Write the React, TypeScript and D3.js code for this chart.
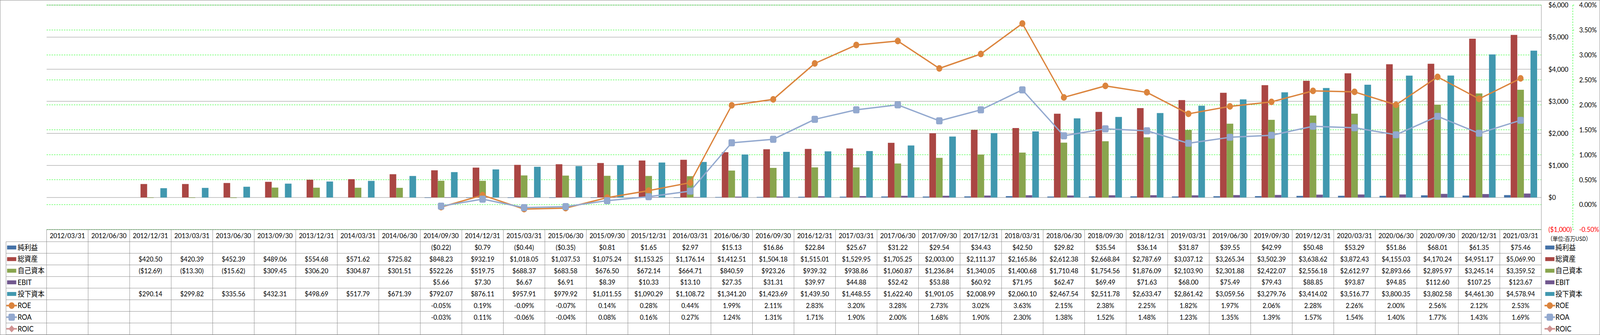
import React, { useEffect } from 'react';
import * as d3 from 'd3';

// quarter ends shown in the data table (2012/09/30 is absent in the source)
const categories = [
  '2012/03/31', '2012/06/30', '2012/12/31', '2013/03/31', '2013/06/30', '2013/09/30',
  '2013/12/31', '2014/03/31', '2014/06/30', '2014/09/30', '2014/12/31', '2015/03/31',
  '2015/06/30', '2015/09/30', '2015/12/31', '2016/03/31', '2016/06/30', '2016/09/30',
  '2016/12/31', '2017/03/31', '2017/06/30', '2017/09/30', '2017/12/31', '2018/03/31',
  '2018/06/30', '2018/09/30', '2018/12/31', '2019/03/31', '2019/06/30', '2019/09/30',
  '2019/12/31', '2020/03/31', '2020/06/30', '2020/09/30', '2020/12/31', '2021/03/31',
];

// 百万USD
const netIncome: (number | null)[] = [
  null, null, null, null, null, null, null, null, null,
  -0.22, 0.79, -0.44, -0.35, 0.81, 1.65, 2.97, 15.13, 16.86, 22.84, 25.67, 31.22, 29.54,
  34.43, 42.5, 29.82, 35.54, 36.14, 31.87, 39.55, 42.99, 50.48, 53.29, 51.86, 68.01, 61.35, 75.46,
];
const totalAssets: (number | null)[] = [
  null, null, 420.5, 420.39, 452.39, 489.06, 554.68, 571.62, 725.82, 848.23, 932.19, 1018.05,
  1037.53, 1075.24, 1153.25, 1176.14, 1412.51, 1504.18, 1515.01, 1529.95, 1705.25, 2003.0,
  2111.37, 2165.86, 2612.38, 2668.84, 2787.69, 3037.12, 3265.34, 3502.39, 3638.62, 3872.43,
  4155.03, 4170.24, 4951.17, 5069.9,
];
const equity: (number | null)[] = [
  null, null, -12.69, -13.3, -15.62, 309.45, 306.2, 304.87, 301.51, 522.26, 519.75, 688.37,
  683.58, 676.5, 672.14, 664.71, 840.59, 923.26, 939.32, 938.86, 1060.87, 1236.84, 1340.05,
  1400.68, 1710.48, 1754.56, 1876.09, 2103.9, 2301.88, 2422.07, 2556.18, 2612.97, 2893.66,
  2895.97, 3245.14, 3359.52,
];
const ebit: (number | null)[] = [
  null, null, null, null, null, null, null, null, null,
  5.66, 7.3, 6.67, 6.91, 8.39, 10.33, 13.1, 27.35, 31.31, 39.97, 44.88, 52.42, 53.88, 60.92,
  71.95, 62.47, 69.49, 71.63, 68.0, 75.49, 79.43, 88.85, 93.87, 94.85, 112.6, 107.25, 123.67,
];
const investedCapital: (number | null)[] = [
  null, null, 290.14, 299.82, 335.56, 432.31, 498.69, 517.79, 671.39, 792.07, 876.11, 957.91,
  979.92, 1011.55, 1090.29, 1108.72, 1341.2, 1423.69, 1439.5, 1448.55, 1622.4, 1901.05,
  2008.99, 2060.1, 2467.54, 2511.78, 2633.47, 2861.42, 3059.56, 3279.76, 3414.02, 3516.77,
  3800.35, 3802.58, 4461.3, 4578.94,
];
// percent
const roe: (number | null)[] = [
  null, null, null, null, null, null, null, null, null,
  -0.05, 0.19, -0.09, -0.07, 0.14, 0.28, 0.44, 1.99, 2.11, 2.83, 3.2, 3.28, 2.73, 3.02, 3.63,
  2.15, 2.38, 2.25, 1.82, 1.97, 2.06, 2.28, 2.26, 2.0, 2.56, 2.12, 2.53,
];
const roa: (number | null)[] = [
  null, null, null, null, null, null, null, null, null,
  -0.03, 0.11, -0.06, -0.04, 0.08, 0.16, 0.27, 1.24, 1.31, 1.71, 1.9, 2.0, 1.68, 1.9, 2.3,
  1.38, 1.52, 1.48, 1.23, 1.35, 1.39, 1.57, 1.54, 1.4, 1.77, 1.43, 1.69,
];
const roic: (number | null)[] = categories.map(() => null);

const barSeries = [
  { name: '純利益', values: netIncome, color: '#4572A7' },
  { name: '総資産', values: totalAssets, color: '#AA4643' },
  { name: '自己資本', values: equity, color: '#89A54E' },
  { name: 'EBIT', values: ebit, color: '#71588F' },
  { name: '投下資本', values: investedCapital, color: '#4198AF' },
];
const lineSeries = [
  { name: 'ROE', values: roe, color: '#DB843D', marker: 'circle' },
  { name: 'ROA', values: roa, color: '#93A9CF', marker: 'square' },
  { name: 'ROIC', values: roic, color: '#D19392', marker: 'diamond' },
];

const W = 4529;
const H = 858;
const plotLeft = 132;
const plotRight = 4363;
const plotTop = 13;
const plotBottom = 588;
const headerBottom = 619;
const tableBottom = 857;
const rowH = (tableBottom - headerBottom) / 8;

const LATIN = "Lato, 'Noto Sans', sans-serif";
const CJK = "Lato, 'Noto Sans CJK JP', sans-serif";
const GRID = '#888888';

const money = (v: number | null) => {
  if (v == null) return '';
  const s = '$' + d3.format(',.2f')(Math.abs(v));
  return v < 0 ? `(${s})` : s;
};
const pct = (v: number | null) => (v == null ? '' : v.toFixed(2) + '%');
const axisMoney = (v: number) => (v < 0 ? `($${d3.format(',')(-v)})` : `$${d3.format(',')(v)}`);

function Marker({ type, x, y, color }: { type: string; x: number; y: number; color: string }) {
  if (type === 'circle') return <circle cx={x} cy={y} r={8.5} fill={color} />;
  if (type === 'square')
    return <rect x={x - 8.5} y={y - 8.5} width={17} height={17} rx={3} fill={color} stroke="#8aa1c9" strokeWidth={1} />;
  return <path d={`M${x},${y - 9}L${x + 9},${y}L${x},${y + 9}L${x - 9},${y}Z`} fill={color} />;
}

function LegendKey({ x, y, s, kind }: { x: number; y: number; s: any; kind: 'bar' | 'line' }) {
  if (kind === 'bar') return <rect x={x} y={y - 5} width={26} height={10} fill={s.color} />;
  return (
    <g>
      <line x1={x - 2} x2={x + 28} y1={y} y2={y} stroke={s.color} strokeWidth={4} />
      <Marker type={s.marker} x={x + 13} y={y} color={s.color} />
    </g>
  );
}

export default function App() {
  useEffect(() => {
    document.body.style.margin = '0';
    document.body.style.overflow = 'hidden';
  }, []);

  const x = d3.scaleBand<string>().domain(categories).range([plotLeft, plotRight]).padding(0);
  const bw = x.bandwidth();
  const xInner = d3
    .scaleBand<string>()
    .domain(barSeries.map((s) => s.name))
    .range([0, bw])
    .paddingInner(0)
    .paddingOuter(0.64);
  const yL = d3.scaleLinear().domain([-1000, 6000]).range([plotBottom, plotTop]);
  const yR = d3.scaleLinear().domain([-0.5, 4]).range([plotBottom, plotTop]);
  const cx = (i: number) => (x(categories[i]) as number) + bw / 2;

  const line = d3
    .line<number | null>()
    .defined((d) => d != null)
    .x((_, i) => cx(i))
    .y((d) => yR(d as number));

  const tableRows = [
    ...barSeries.map((s) => ({ s, kind: 'bar' as const, fmt: money })),
    ...lineSeries.map((s) => ({ s, kind: 'line' as const, fmt: pct })),
  ];

  // the viewport can be narrower than the requested size, so the chart is stretched to fill it
  return (
    <svg
      viewBox={`0 0 ${W} ${H}`}
      preserveAspectRatio="none"
      style={{ display: 'block', position: 'fixed', left: 0, top: 0, width: '100vw', height: '100vh' }}
    >
      <rect x={0.5} y={0.5} width={W - 1} height={H - 1} fill="#fff" stroke={GRID} />

      {/* value gridlines */}
      {yL.ticks(7).map((t) => (
        <line key={'g' + t} x1={plotLeft} x2={plotRight} y1={yL(t)} y2={yL(t)} stroke={GRID} strokeWidth={1} />
      ))}
      {yR.ticks(9).map((t) => (
        <line key={'p' + t} x1={plotLeft} x2={plotRight} y1={yR(t)} y2={yR(t)} stroke="#00FF00" strokeWidth={1} strokeDasharray="4,3" />
      ))}
      <line x1={plotRight} x2={plotRight} y1={plotTop} y2={plotBottom} stroke={GRID} />

      {/* bars */}
      {barSeries.map((s) =>
        s.values.map((v, i) =>
          v == null ? null : (
            <rect
              key={s.name + i}
              x={(x(categories[i]) as number) + (xInner(s.name) as number)}
              y={Math.min(yL(v), yL(0))}
              width={xInner.bandwidth()}
              height={Math.max(Math.abs(yL(v) - yL(0)), 1)}
              fill={s.color}
            />
          )
        )
      )}

      {/* lines */}
      {lineSeries.map((s) => (
        <g key={s.name}>
          <path d={line(s.values) || ''} fill="none" stroke={s.color} strokeWidth={3.5} strokeLinejoin="round" />
          {s.values.map((v, i) => (v == null ? null : <Marker key={i} type={s.marker} x={cx(i)} y={yR(v)} color={s.color} />))}
        </g>
      ))}

      {/* left value axis labels (drawn on the right) */}
      {yL.ticks(7).map((t) => (
        <text key={'l' + t} x={4383} y={yL(t)} dy="0.35em" fontFamily={LATIN} fontSize={18} fill={t < 0 ? '#FF0000' : '#000'}>
          {axisMoney(t)}
        </text>
      ))}
      {/* percent axis */}
      <line x1={4452} x2={4452} y1={plotTop} y2={plotBottom} stroke="#00FF00" strokeDasharray="4,3" />
      {yR.ticks(9).map((t) => (
        <g key={'r' + t}>
          <line x1={4452} x2={4456} y1={yR(t)} y2={yR(t)} stroke="#00FF00" />
          <text x={4470} y={yR(t)} dy="0.35em" fontFamily={LATIN} fontSize={18} fill={t < 0 ? '#FF0000' : '#000'}>
            {t.toFixed(2) + '%'}
          </text>
        </g>
      ))}
      <text x={4380} y={612} dy="0.35em" fontFamily="'Noto Sans CJK JP', sans-serif" fontSize={15} fill="#000">
        （単位:百万USD）
      </text>

      {/* data table */}
      <g stroke={GRID} strokeWidth={1}>
        <line x1={plotLeft} x2={plotRight} y1={plotBottom} y2={plotBottom} />
        <line x1={17} x2={plotRight} y1={headerBottom} y2={headerBottom} />
        {tableRows.map((_, r) => (
          <line key={'hr' + r} x1={17} x2={plotRight} y1={headerBottom + (r + 1) * rowH} y2={headerBottom + (r + 1) * rowH} />
        ))}
        <line x1={17} x2={17} y1={headerBottom} y2={tableBottom} />
        {categories.map((c) => (
          <line key={'v' + c} x1={x(c)} x2={x(c)} y1={plotBottom} y2={tableBottom} />
        ))}
        <line x1={plotRight} x2={plotRight} y1={plotBottom} y2={tableBottom} />
      </g>
      {categories.map((c) => (
        <text key={'h' + c} x={(x(c) as number) + bw / 2} y={(plotBottom + headerBottom) / 2} dy="0.35em" textAnchor="middle" fontFamily={LATIN} fontSize={18}>
          {c}
        </text>
      ))}
      {tableRows.map((row, r) => {
        const yc = headerBottom + (r + 0.5) * rowH;
        return (
          <g key={row.s.name}>
            <LegendKey x={20} y={yc} s={row.s} kind={row.kind} />
            <text x={50} y={yc} dy="0.35em" fontFamily={CJK} fontSize={19}>
              {row.s.name}
            </text>
            {row.s.values.map((v, i) => (
              <text key={i} x={cx(i)} y={yc} dy="0.35em" textAnchor="middle" fontFamily={LATIN} fontSize={18}>
                {row.fmt(v)}
              </text>
            ))}
            <LegendKey x={4374} y={yc} s={row.s} kind={row.kind} />
            <text x={4403} y={yc} dy="0.35em" fontFamily={CJK} fontSize={19}>
              {row.s.name}
            </text>
          </g>
        );
      })}
    </svg>
  );
}
